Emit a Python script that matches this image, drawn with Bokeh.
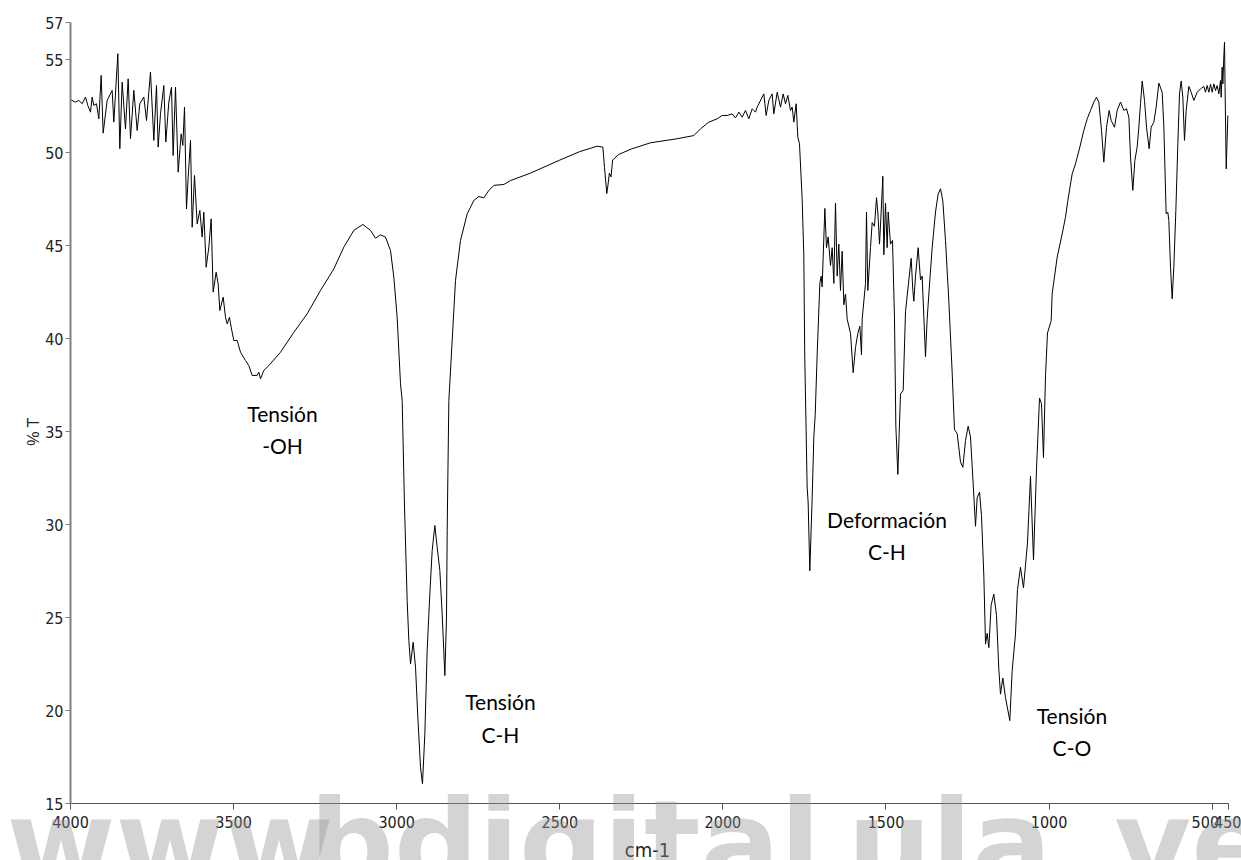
import math

from bokeh.plotting import figure
from bokeh.models import Range1d, FixedTicker, Label
from bokeh.core.properties import value
from bokeh.embed import file_html
from bokeh.resources import INLINE

# FTIR spectrum: wavenumber (cm-1) and transmittance (%T)
wavenumber = [
    4000.0, 3984.7, 3974.5, 3964.2, 3954.0, 3946.9, 3938.7, 3933.6, 3928.5, 3920.3,
    3913.1, 3906.0, 3899.9, 3887.6, 3872.3, 3867.2, 3854.9, 3848.8, 3841.6, 3831.4,
    3823.2, 3816.1, 3805.9, 3795.6, 3787.5, 3775.2, 3767.0, 3754.8, 3744.5, 3736.4,
    3731.3, 3724.1, 3713.9, 3707.8, 3698.6, 3690.4, 3685.3, 3678.1, 3669.9, 3660.8,
    3655.6, 3650.5, 3644.4, 3639.3, 3632.1, 3627.0, 3619.9, 3611.7, 3603.5, 3596.4,
    3591.3, 3584.1, 3575.9, 3568.8, 3562.7, 3553.5, 3547.3, 3542.2, 3532.0, 3524.8,
    3519.7, 3512.6, 3507.5, 3499.3, 3489.1, 3478.8, 3463.5, 3453.3, 3443.1, 3427.8,
    3422.6, 3417.5, 3407.3, 3392.0, 3356.2, 3315.3, 3274.5, 3233.6, 3192.7, 3162.1,
    3131.4, 3103.8, 3080.3, 3065.0, 3049.7, 3034.3, 3019.0, 3008.8, 2998.6, 2988.3,
    2983.2, 2976.0, 2967.9, 2962.8, 2957.6, 2949.5, 2942.3, 2935.2, 2927.0, 2920.9,
    2913.7, 2906.6, 2898.4, 2891.2, 2883.1, 2875.9, 2867.7, 2860.6, 2852.4, 2847.3,
    2845.2, 2843.2, 2840.1, 2819.7, 2804.4, 2783.9, 2763.5, 2748.2, 2732.8, 2717.5,
    2702.2, 2671.5, 2651.1, 2590.0, 2500.0, 2440.0, 2385.0, 2368.0, 2362.9, 2356.0,
    2352.0, 2348.0, 2343.0, 2338.0, 2320.0, 2280.0, 2222.0, 2140.2, 2089.1, 2068.7,
    2043.1, 2017.6, 2002.2, 1986.9, 1971.6, 1961.4, 1951.1, 1940.9, 1930.7, 1920.5,
    1910.2, 1900.0, 1894.9, 1874.5, 1867.4, 1859.2, 1849.0, 1843.9, 1833.6, 1823.4,
    1815.2, 1808.1, 1800.9, 1792.7, 1787.6, 1782.5, 1775.4, 1770.3, 1765.2, 1757.0,
    1752.0, 1749.0, 1741.7, 1738.6, 1733.5, 1726.3, 1721.2, 1717.1, 1711.0, 1702.8,
    1698.7, 1695.7, 1687.5, 1682.4, 1677.3, 1670.1, 1665.0, 1659.9, 1654.8, 1649.7,
    1644.6, 1639.5, 1634.4, 1629.2, 1624.1, 1619.0, 1608.8, 1600.6, 1593.5, 1586.3,
    1580.2, 1575.1, 1573.0, 1562.8, 1559.8, 1555.7, 1547.5, 1542.4, 1535.3, 1529.1,
    1525.0, 1519.9, 1514.8, 1509.7, 1506.6, 1501.5, 1496.4, 1493.3, 1486.2, 1480.0,
    1473.9, 1469.8, 1463.7, 1459.6, 1455.5, 1447.3, 1440.2, 1429.9, 1422.8, 1417.7,
    1414.6, 1409.5, 1401.4, 1394.2, 1389.1, 1378.9, 1373.8, 1365.6, 1358.4, 1348.2,
    1340.1, 1332.9, 1325.7, 1317.6, 1307.3, 1297.1, 1290.0, 1281.8, 1271.6, 1264.4,
    1256.3, 1248.1, 1240.9, 1232.8, 1225.6, 1220.5, 1213.3, 1207.2, 1200.0, 1194.9,
    1189.8, 1184.7, 1177.6, 1169.4, 1161.2, 1154.1, 1149.0, 1141.8, 1133.6, 1120.4,
    1113.2, 1103.0, 1096.9, 1087.7, 1078.5, 1066.3, 1057.0, 1047.8, 1038.6, 1029.4,
    1023.3, 1017.2, 1011.0, 1004.9, 993.6, 990.6, 975.2, 959.9, 949.7, 942.5,
    929.2, 919.0, 905.7, 893.5, 883.2, 873.0, 862.8, 854.6, 847.5, 839.3,
    832.2, 824.0, 815.8, 809.7, 799.5, 791.3, 781.1, 770.8, 762.7, 755.5,
    750.4, 743.3, 737.1, 730.0, 724.9, 719.7, 714.6, 707.5, 701.3, 693.2,
    687.1, 678.9, 671.7, 663.6, 653.3, 648.2, 641.1, 636.0, 632.9, 627.8,
    622.7, 617.6, 611.4, 605.3, 600.2, 595.1, 590.0, 584.9, 579.8, 571.6,
    564.4, 556.3, 546.0, 535.8, 525.6, 520.5, 515.4, 510.3, 505.1, 500.0,
    494.9, 489.8, 484.7, 479.6, 474.5, 472.4, 469.4, 467.3, 464.3, 462.2,
    460.5, 457.0, 452.0,
]

transmittance = [
    52.84, 52.72, 52.81, 52.63, 52.99, 52.54, 52.18, 52.99, 52.54, 52.63,
    51.82, 54.15, 51.05, 52.81, 53.35, 51.64, 55.32, 50.21, 53.79, 51.28,
    53.97, 50.75, 53.35, 51.19, 52.63, 52.99, 51.73, 54.33, 50.66, 53.61,
    50.30, 52.09, 53.61, 50.57, 52.72, 53.52, 49.85, 53.52, 48.95, 51.01,
    50.39, 52.45, 46.98, 48.68, 50.66, 45.99, 48.77, 46.17, 46.89, 45.46,
    46.80, 43.84, 44.92, 46.44, 42.50, 43.57, 42.94, 41.51, 42.23, 41.15,
    40.79, 41.15, 40.62, 39.90, 39.90, 39.27, 38.82, 38.55, 38.02, 38.02,
    38.19, 37.84, 38.29, 38.55, 39.27, 40.34, 41.33, 42.59, 43.75, 44.92,
    45.82, 46.14, 45.82, 45.40, 45.58, 45.46, 44.74, 43.31, 41.15, 37.57,
    36.67, 30.94, 25.92, 23.77, 22.51, 23.67, 22.33, 19.64, 16.95, 16.06,
    18.75, 23.23, 26.27, 28.61, 29.95, 28.78, 27.53, 25.20, 21.88, 25.02,
    29.68, 32.55, 36.67, 43.13, 45.28, 46.71, 47.43, 47.64, 47.57, 47.97,
    48.24, 48.29, 48.50, 48.90, 49.60, 50.05, 50.35, 50.30, 49.20, 47.80,
    48.30, 48.90, 48.70, 49.60, 49.90, 50.20, 50.53, 50.75, 50.92, 51.28,
    51.64, 51.82, 52.00, 52.00, 52.09, 51.87, 52.18, 51.91, 52.27, 51.82,
    52.36, 52.18, 52.45, 53.16, 52.00, 52.81, 53.16, 52.09, 53.25, 52.45,
    53.16, 52.63, 53.08, 52.27, 52.45, 51.64, 52.63, 50.83, 50.48, 47.50,
    44.50, 39.00, 32.02, 31.16, 27.51, 31.45, 34.71, 35.87, 39.13, 42.97,
    43.36, 42.78, 47.00, 44.89, 45.47, 43.93, 44.89, 42.97, 47.29, 43.36,
    45.08, 42.59, 44.70, 41.82, 42.40, 41.05, 40.28, 38.17, 39.51, 40.28,
    40.67, 39.13, 41.05, 42.97, 46.81, 42.59, 44.89, 46.24, 46.04, 47.58,
    46.81, 45.08, 46.81, 48.73, 44.51, 47.29, 44.89, 46.81, 45.08, 45.28,
    41.05, 35.29, 32.70, 34.90, 37.02, 37.21, 41.44, 43.16, 44.32, 42.59,
    42.01, 43.36, 44.89, 43.16, 43.36, 39.03, 41.05, 43.16, 44.89, 46.81,
    47.77, 48.06, 47.39, 45.28, 42.01, 38.17, 35.10, 34.90, 33.37, 33.08,
    34.52, 35.29, 34.71, 32.22, 29.91, 31.45, 31.74, 30.49, 27.22, 23.57,
    24.15, 23.38, 25.69, 26.26, 25.11, 22.23, 20.88, 21.75, 20.69, 19.46,
    22.15, 24.12, 26.50, 27.70, 26.60, 29.00, 32.60, 28.10, 33.00, 36.80,
    36.50, 33.60, 38.00, 40.30, 40.97, 42.41, 44.38, 45.63, 46.53, 47.43,
    48.86, 49.40, 50.30, 51.20, 51.82, 52.27, 52.72, 52.98, 52.72, 51.20,
    49.49, 51.37, 52.27, 51.73, 51.37, 52.27, 52.72, 52.27, 52.36, 51.91,
    49.76, 47.97, 49.58, 50.30, 51.37, 52.63, 53.85, 52.81, 51.37, 50.21,
    51.37, 51.64, 52.45, 53.74, 53.25, 51.37, 46.71, 46.80, 46.35, 43.84,
    42.14, 43.84, 46.89, 50.48, 53.16, 53.85, 52.98, 50.66, 52.27, 53.56,
    53.25, 52.81, 53.25, 53.43, 53.56, 53.25, 53.61, 53.25, 53.67, 53.25,
    53.70, 53.34, 53.61, 53.16, 53.88, 52.98, 54.60, 53.70, 55.20, 55.94,
    53.50, 49.13, 52.00,
]

x_ticks = [4000, 3500, 3000, 2500, 2000, 1500, 1000, 500, 450]
y_ticks = [15, 20, 25, 30, 35, 40, 45, 50, 55, 57]
x_min, x_max = 450, 4000
y_min, y_max = 15, 57

# band assignments: (line 1, line 2, wavenumber, %T of line 1, of line 2)
band_labels = [
    ("Tensión", "-OH", 3350, 36.00, 34.23),
    ("Tensión", "C-H", 2682, 20.46, 18.69),
    ("Deformación", "C-H", 1497, 30.28, 28.53),
    ("Tensión", "C-O", 930, 19.71, 17.99),
]

# Page geometry (pixels): the axes sit inside a full-page frame, so tick
# labels, titles and the watermark under the x axis are never clipped.
W, H = 1241, 860
left, right, top, bottom = 70, 13, 22, 57
sx = (x_max - x_min) / (W - left - right)     # wavenumber per pixel
sy = (y_max - y_min) / (H - top - bottom)     # %T per pixel

p = figure(
    width=W, height=H,
    x_range=Range1d(x_max + left * sx, x_min - right * sx),
    y_range=Range1d(y_min - bottom * sy, y_max + top * sy),
    output_backend="svg", toolbar_location=None,
    min_border=0, min_border_left=0, min_border_right=0,
    min_border_top=0, min_border_bottom=0,
    background_fill_color="white", border_fill_color="white",
)
p.outline_line_color = None
p.grid.visible = False

p.line(wavenumber, transmittance, line_color="black", line_width=1)

tick_font = "Liberation Sans Narrow, DejaVu Sans Condensed, Liberation Sans"

xa = p.xaxis[0]
xa.fixed_location = y_min
xa.bounds = (x_min, x_max)
xa.ticker = FixedTicker(ticks=x_ticks)
xa.major_label_overrides = {500: "500\u00a0\u00a0\u00a0", 450: "\u00a0450"}
xa.minor_tick_line_color = None
xa.axis_line_color = "#555555"
xa.major_tick_line_color = "#555555"
xa.major_tick_out = 6
xa.major_tick_in = 0
xa.major_label_standoff = 3
xa.major_label_text_font = tick_font
xa.major_label_text_font_size = "16px"
xa.major_label_text_color = "#222222"

ya = p.yaxis[0]
ya.fixed_location = x_max
ya.bounds = (y_min, y_max)
ya.ticker = FixedTicker(ticks=y_ticks)
ya.minor_tick_line_color = None
ya.axis_line_color = "#808080"
ya.axis_line_width = 2
ya.major_tick_line_color = "#808080"
ya.major_tick_out = 5
ya.major_tick_in = 0
ya.major_label_standoff = 2
ya.major_label_text_font = tick_font
ya.major_label_text_font_size = "16px"
ya.major_label_text_color = "#222222"

for line1, line2, wn, t1, t2 in band_labels:
    p.text(x=[wn], y=[t1], text=[line1], text_align="center", text_baseline="alphabetic",
           text_font=value("Lato"), text_font_size="21px", text_color="black")
    p.text(x=[wn], y=[t2], text=[line2], text_align="center", text_baseline="alphabetic",
           text_font=value("Lato"), text_font_size="21px", text_color="black")

# axis titles
p.add_layout(Label(
    x=4113, y=35.0, text="% T", angle=math.pi / 2, text_align="center",
    text_baseline="middle", text_font="Liberation Sans", text_font_size="16px",
    text_color="#222222",
))
p.add_layout(Label(
    x=2231, y=12.50, text="cm-1", text_align="center", text_baseline="alphabetic",
    text_font=tick_font, text_font_size="20px", text_color="#222222",
))

# repository watermark across the foot of the page
watermark = [("www.", 4196), ("bdigital.", 3267), ("ula.", 1618), ("ve", 800)]
for word, wx in watermark:
    p.add_layout(Label(
        x=wx, y=12.9, text=word, text_align="left", text_baseline="alphabetic",
        text_font="DejaVu Sans", text_font_style="bold", text_font_size="118px",
        text_color="#949494", text_alpha=0.4,
    ))

open("out.html", "w").write(file_html(p, INLINE))
